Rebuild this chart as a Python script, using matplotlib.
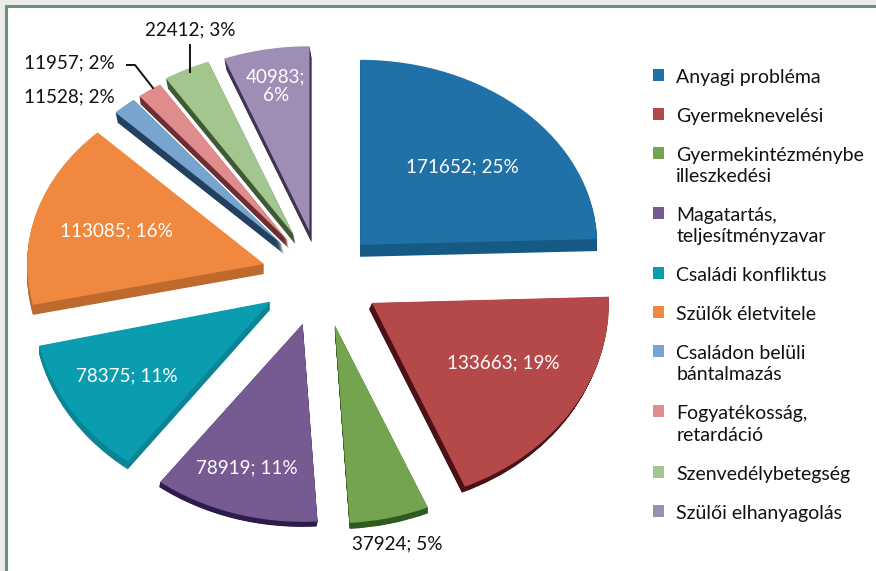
import numpy as np
import matplotlib
matplotlib.use("Agg")
import matplotlib.pyplot as plt
from matplotlib.patches import Rectangle
from matplotlib.transforms import Affine2D

plt.rcParams['font.family'] = ['Lato', 'DejaVu Sans']

categories = ["Anyagi probléma", "Gyermeknevelési", "Gyermekintézménybe\nilleszkedési",
              "Magatartás,\nteljesítményzavar", "Családi konfliktus", "Szülők életvitele",
              "Családon belüli\nbántalmazás", "Fogyatékosság,\nretardáció",
              "Szenvedélybetegség", "Szülői elhanyagolás"]
values = [171652, 133663, 37924, 78919, 78375, 113085, 11528, 11957, 22412, 40983]

top_colors = ['#1F71A8', '#B54848', '#74A44F', '#765B93', '#0A9DB0',
              '#F0883F', '#78A5CF', '#E08C8C', '#A3C68F', '#9E8DB5']
side_colors = ['#155A85', '#4A1216', '#2F5A20', '#2D1B4E', '#0A8595',
               '#BE6A2E', '#23415F', '#6B2E33', '#3F5A35', '#3F3550']
explode = [0.28, 0.25, 0.235, 0.225, 0.235, 0.25, 0.26, 0.27, 0.295, 0.29]
stretch = [1.0, 1.08, 1.07, 1.07, 1.08, 1.0, 1.0, 1.0, 1.0, 1.0]
nudge_x = [-4, 4, 4, 0, -1, 3, 5, 7, 7, 4]
nudge_y = [-1, -5, 0, 1, -5, -6, -3, -2, 0, 1]
depth_x = [0, -3, 0, -1, 0, 0, 2, 1, 2, 2]
depth_y = [12, 6, 6, 5, 8, 10, 10, 8, 10, 11]

label_x = [462, 503, 397, 247, 127, 116, 69, 69, 190, 276]
label_y = [167, 363, 544, 468, 376, 231, 97, 63, 30, 86]
label_dark = [False, False, True, False, False, False, True, True, True, False]

W, H = 876, 571
RX, RY = 237.0, 185.0
CX, CY = 318.0, 283.0
FS_LABEL = 13.6
FS_LEGEND = 14

fig = plt.figure(figsize=(W / 100, H / 100), dpi=100, facecolor='#ECECEC')

bg = fig.add_axes([0, 0, 1, 1], zorder=0)
bg.set_xlim(0, W); bg.set_ylim(H, 0); bg.axis('off')
bg.add_patch(Rectangle((5.5, 6), W + 20, H + 20, facecolor='white', edgecolor='#6B9274', linewidth=2.2))

ax = fig.add_axes([0, 0, 1, 1], zorder=1)
ax.patch.set_visible(False)


def draw_layer(colors, frac):
    wedges, _ = ax.pie(values, explode=explode, startangle=90, counterclock=False,
                       colors=colors, wedgeprops=dict(linewidth=0))
    for i, w in enumerate(wedges):
        x0, y0 = w.center
        t = (Affine2D().translate(-x0, -y0).scale(1, stretch[i]).translate(x0, y0)
             .translate((nudge_x[i] + frac * depth_x[i]) / RX,
                        -(nudge_y[i] + frac * depth_y[i]) / RY))
        w.set_transform(t + ax.transData)
    return wedges


for frac in np.linspace(1, 0, 15)[:-1]:
    draw_layer(side_colors, frac)
top = draw_layer(top_colors, 0)

ax.set_aspect('auto')
ax.set_xlim(-CX / RX, (W - CX) / RX)
ax.set_ylim((CY - H) / RY, CY / RY)
ax.axis('off')

ov = fig.add_axes([0, 0, 1, 1], zorder=2)
ov.set_xlim(0, W); ov.set_ylim(H, 0); ov.axis('off'); ov.patch.set_visible(False)

total = sum(values)
for i, v in enumerate(values):
    pct = round(100 * v / total)
    sep = ";\n" if i == len(values) - 1 else "; "
    ov.text(label_x[i], label_y[i], f"{v}{sep}{pct}%", ha='center', va='center', fontsize=FS_LABEL,
            color='#111111' if label_dark[i] else 'white', linespacing=1.15)

ov.plot([190, 190], [45, 72], color='#111111', lw=1.4)
ov.plot([127, 135, 153], [65, 65, 88], color='#111111', lw=1.4)

leg = ax.legend(top, categories, loc='upper left', bbox_to_anchor=(653 / W, 1 - 69 / H),
                bbox_transform=fig.transFigure, frameon=False, fontsize=FS_LEGEND,
                handlelength=0.57, handleheight=0.57, handletextpad=0.62, labelspacing=1.13,
                borderaxespad=0, borderpad=0)
for t in leg.get_texts():
    t.set_color('#111111')
    t.set_linespacing(1.3)
for col in leg._legend_handle_box.get_children():
    for row in col.get_children():
        row.align = 'top'

fig.savefig('out.png', dpi=100, facecolor=fig.get_facecolor())
